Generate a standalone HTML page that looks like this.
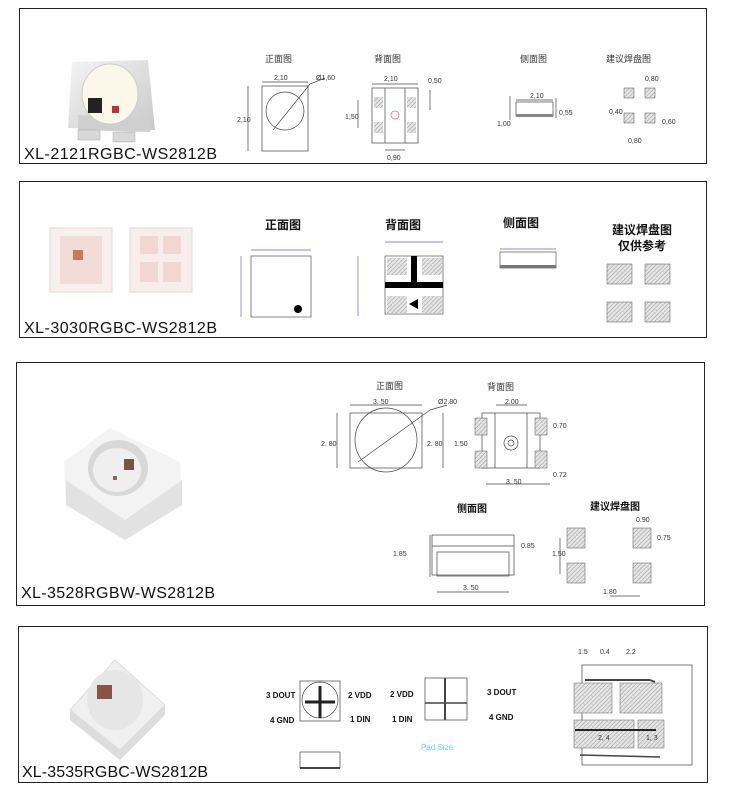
<!DOCTYPE html>
<html><head><meta charset="utf-8">
<style>
html,body{margin:0;padding:0;background:#fff;}
svg{display:block}
text{font-family:"Liberation Sans","Noto Sans CJK SC",sans-serif;}
.l{font-size:16px;fill:#111;}
.t{font-size:9px;fill:#333;}
.cb{font-size:12px;fill:#111;font-weight:bold;}
.d{font-size:7px;fill:#333;}
</style></head><body>
<svg width="733" height="795" viewBox="0 0 733 795" xmlns="http://www.w3.org/2000/svg">
<defs>
<pattern id="h" width="3" height="3" patternUnits="userSpaceOnUse" patternTransform="rotate(45)"><rect width="3" height="3" fill="#e4e4e4"/><line x1="0" y1="0" x2="0" y2="3" stroke="#999" stroke-width="1"/></pattern>
<linearGradient id="g1" x1="0" y1="0" x2="1" y2="1"><stop offset="0" stop-color="#f4f4f4"/><stop offset="1" stop-color="#c9c9c9"/></linearGradient>
</defs>
<rect x="19.5" y="8.5" width="687" height="155" fill="none" stroke="#222"/>
<rect x="19.5" y="181.5" width="687" height="156" fill="none" stroke="#222"/>
<rect x="16.5" y="362.5" width="688" height="243" fill="none" stroke="#222"/>
<rect x="18.5" y="626.5" width="689" height="156" fill="none" stroke="#222"/>

<text class="l" x="24" y="159" textLength="193">XL-2121RGBC-WS2812B</text>
<text class="l" x="24" y="333" textLength="193">XL-3030RGBC-WS2812B</text>
<text class="l" x="21" y="598" textLength="194">XL-3528RGBW-WS2812B</text>
<text class="l" x="22" y="777" textLength="186">XL-3535RGBC-WS2812B</text>

<!-- Panel 1 photo -->
<polygon points="72,62 148,60 155,130 68,128" fill="url(#g1)"/>
<polygon points="78,115 150,118 150,132 78,130" fill="#cfcfcf"/>
<rect x="78" y="130" width="22" height="10" fill="#d8d8d8" stroke="#aaa" stroke-width=".5"/>
<rect x="113" y="132" width="22" height="10" fill="#d8d8d8" stroke="#aaa" stroke-width=".5"/>
<ellipse cx="110" cy="94" rx="28" ry="30" fill="#fbf8ea" stroke="#ccc"/>
<rect x="88" y="98" width="14" height="15" fill="#222"/>
<rect x="112" y="106" width="7" height="7" fill="#b33"/>
<text class="t" x="265" y="62">正面图</text>
<text class="t" x="374" y="62">背面图</text>
<text class="t" x="520" y="62">侧面图</text>
<text class="t" x="606" y="62">建议焊盘图</text>
<g stroke="#444" fill="none" stroke-width=".7">
<rect x="262" y="86" width="46" height="65"/>
<circle cx="285" cy="111" r="19"/>
<line x1="262" y1="82" x2="308" y2="82"/><line x1="248" y1="86" x2="248" y2="151"/>
<line x1="273" y1="130" x2="310" y2="84"/><line x1="310" y1="84" x2="325" y2="78"/>
<rect x="372" y="88" width="46" height="55"/><line x1="385" y1="88" x2="385" y2="143"/><line x1="405" y1="88" x2="405" y2="143"/>
<line x1="372" y1="84" x2="418" y2="84"/><line x1="358" y1="100" x2="358" y2="128"/>
<line x1="385" y1="150" x2="405" y2="150"/><line x1="430" y1="90" x2="430" y2="110"/>
<circle cx="395" cy="115" r="4" stroke="#d66"/>
<rect x="516" y="102" width="37" height="14"/><line x1="516" y1="100" x2="553" y2="100"/>
<line x1="510" y1="96" x2="510" y2="120"/><line x1="556" y1="98" x2="556" y2="118"/>
</g>
<rect x="374" y="97" width="9" height="11" fill="url(#h)"/><rect x="407" y="97" width="9" height="11" fill="url(#h)"/>
<rect x="374" y="122" width="9" height="11" fill="url(#h)"/><rect x="407" y="122" width="9" height="11" fill="url(#h)"/>
<rect x="516" y="114" width="37" height="3" fill="#888"/>
<rect x="624" y="88" width="10" height="10" fill="url(#h)" stroke="#555" stroke-width=".5"/>
<rect x="645" y="88" width="10" height="10" fill="url(#h)" stroke="#555" stroke-width=".5"/>
<rect x="624" y="113" width="10" height="10" fill="url(#h)" stroke="#555" stroke-width=".5"/>
<rect x="645" y="113" width="10" height="10" fill="url(#h)" stroke="#555" stroke-width=".5"/>
<g class="d">
<text x="274" y="80">2,10</text><text x="316" y="80">Ø1,60</text><text x="237" y="122">2,10</text>
<text x="384" y="81">2,10</text><text x="428" y="83">0,50</text><text x="345" y="119">1,50</text><text x="387" y="160">0,90</text>
<text x="530" y="98">2,10</text><text x="559" y="115">0,55</text><text x="497" y="126">1,00</text>
<text x="645" y="81">0,80</text><text x="609" y="114">0,40</text><text x="662" y="124">0,60</text><text x="628" y="143">0,80</text>
</g>

<!-- Panel 2 -->
<rect x="50" y="228" width="62" height="64" fill="#f7f0ee" stroke="#e4d8d6"/>
<rect x="60" y="236" width="42" height="48" fill="#f2dcd8"/>
<rect x="73" y="250" width="10" height="10" fill="#c75"/>
<rect x="130" y="228" width="62" height="64" fill="#f7eeec" stroke="#e4d8d6"/>
<rect x="140" y="236" width="18" height="18" fill="#f1d6d2"/><rect x="163" y="236" width="18" height="18" fill="#f1d6d2"/>
<rect x="140" y="262" width="18" height="20" fill="#f1d6d2"/><rect x="163" y="262" width="18" height="20" fill="#f1d6d2"/>
<text class="cb" x="265" y="229">正面图</text>
<text class="cb" x="385" y="229">背面图</text>
<text class="cb" x="503" y="227">侧面图</text>
<text class="cb" x="612" y="234">建议焊盘图</text>
<text class="cb" x="618" y="250">仅供参考</text>
<g stroke="#555" fill="none" stroke-width=".7">
<rect x="251" y="256" width="60" height="61"/>
<line x1="251" y1="250" x2="311" y2="250" stroke="#66c"/><line x1="241" y1="256" x2="241" y2="317" stroke="#66c"/>
<rect x="385" y="256" width="58" height="58"/>
<line x1="385" y1="242" x2="443" y2="242" stroke="#66c"/><line x1="358" y1="256" x2="358" y2="316" stroke="#66c"/>
<rect x="500" y="252" width="56" height="16"/><line x1="500" y1="249" x2="556" y2="249" stroke="#66c"/>
</g>
<circle cx="298" cy="309" r="4" fill="#000"/>
<rect x="387" y="258" width="20" height="17" fill="url(#h)"/><rect x="422" y="258" width="20" height="17" fill="url(#h)"/>
<rect x="387" y="296" width="20" height="17" fill="url(#h)"/><rect x="422" y="296" width="20" height="17" fill="url(#h)"/>
<rect x="411" y="256" width="6" height="30" fill="#000"/><rect x="385" y="282" width="58" height="6" fill="#000"/>
<polygon points="409,304 418,299 418,309" fill="#000"/>
<rect x="500" y="265" width="56" height="3" fill="#777"/>
<rect x="607" y="264" width="25" height="20" fill="url(#h)" stroke="#555" stroke-width=".5"/>
<rect x="645" y="264" width="25" height="20" fill="url(#h)" stroke="#555" stroke-width=".5"/>
<rect x="607" y="302" width="25" height="20" fill="url(#h)" stroke="#555" stroke-width=".5"/>
<rect x="645" y="302" width="25" height="20" fill="url(#h)" stroke="#555" stroke-width=".5"/>

<!-- Panel 3 photo -->
<polygon points="64,462 110,428 180,462 182,505 125,540 66,505" fill="#f3f3f3"/>
<polygon points="66,480 125,520 182,480 182,505 125,540 66,505" fill="#e2e2e2"/>
<ellipse cx="118" cy="468" rx="30" ry="28" fill="#d8d8d8"/>
<ellipse cx="117" cy="470" rx="24" ry="22" fill="#efefef"/>
<rect x="124" y="459" width="10" height="11" fill="#754"/>
<rect x="113" y="476" width="4" height="4" fill="#a55"/>
<text class="t" x="376" y="389">正面图</text>
<text class="t" x="487" y="390">背面图</text>
<text class="cb" x="457" y="512" style="font-size:10px">侧面图</text>
<text class="cb" x="590" y="510" style="font-size:10px">建议焊盘图</text>
<g stroke="#444" fill="none" stroke-width=".7">
<rect x="350" y="413" width="72" height="55"/><ellipse cx="386" cy="440" rx="31" ry="32"/>
<line x1="350" y1="405" x2="422" y2="405"/><line x1="337" y1="413" x2="337" y2="468"/>
<line x1="358" y1="462" x2="430" y2="410"/><line x1="430" y1="410" x2="447" y2="405"/>
<rect x="482" y="413" width="58" height="55"/><line x1="495" y1="413" x2="495" y2="468"/><line x1="527" y1="413" x2="527" y2="468"/>
<circle cx="511" cy="443" r="7"/><circle cx="511" cy="443" r="3"/>
<line x1="496" y1="405" x2="527" y2="405"/><line x1="443" y1="413" x2="443" y2="468"/>
<line x1="486" y1="484" x2="550" y2="484"/>
<rect x="432" y="535" width="82" height="40"/><rect x="437" y="552" width="72" height="24"/>
<line x1="432" y1="546" x2="514" y2="546"/>
<line x1="430" y1="535" x2="430" y2="577"/><line x1="437" y1="592" x2="509" y2="592"/>
<line x1="560" y1="538" x2="560" y2="574"/><line x1="610" y1="596" x2="640" y2="596"/>
</g>
<rect x="475" y="418" width="12" height="17" fill="url(#h)" stroke="#555" stroke-width=".5"/>
<rect x="535" y="418" width="12" height="17" fill="url(#h)" stroke="#555" stroke-width=".5"/>
<rect x="475" y="451" width="12" height="17" fill="url(#h)" stroke="#555" stroke-width=".5"/>
<rect x="535" y="451" width="12" height="17" fill="url(#h)" stroke="#555" stroke-width=".5"/>
<rect x="567" y="528" width="18" height="20" fill="url(#h)" stroke="#555" stroke-width=".5"/>
<rect x="633" y="528" width="18" height="20" fill="url(#h)" stroke="#555" stroke-width=".5"/>
<rect x="567" y="563" width="18" height="20" fill="url(#h)" stroke="#555" stroke-width=".5"/>
<rect x="633" y="563" width="18" height="20" fill="url(#h)" stroke="#555" stroke-width=".5"/>
<g class="d">
<text x="373" y="404">3. 50</text><text x="438" y="404">Ø2.80</text><text x="321" y="446">2. 80</text><text x="427" y="446">2. 80</text>
<text x="454" y="446">1.50</text><text x="505" y="404">2.00</text><text x="553" y="428">0.70</text><text x="553" y="477">0.72</text>
<text x="506" y="484">3. 50</text><text x="393" y="556">1.85</text><text x="521" y="548">0.85</text><text x="463" y="590">3. 50</text>
<text x="552" y="556">1.50</text><text x="636" y="522">0.90</text><text x="657" y="540">0.75</text><text x="603" y="594">1.80</text>
</g>

<!-- Panel 4 -->
<polygon points="70,710 115,660 165,705 120,750" fill="#f0f0f0" stroke="#ddd"/>
<polygon points="70,710 120,750 165,705 165,715 120,760 70,720" fill="#ddd"/>
<ellipse cx="115" cy="700" rx="28" ry="30" fill="#e6e6e6"/>
<rect x="97" y="685" width="15" height="14" fill="#854"/>
<g stroke="#444" fill="none" stroke-width=".7">
<rect x="300" y="681" width="40" height="40"/><circle cx="320" cy="700" r="18"/>
<line x1="320" y1="686" x2="320" y2="718" stroke="#222" stroke-width="3"/><line x1="305" y1="702" x2="335" y2="702" stroke="#222" stroke-width="3"/>
<rect x="300" y="752" width="40" height="16"/><line x1="300" y1="768" x2="340" y2="768" stroke-width="2"/>
<rect x="425" y="678" width="42" height="42"/>
<line x1="445" y1="678" x2="445" y2="720" stroke-width="2"/><line x1="425" y1="703" x2="467" y2="703" stroke-width="1.5"/>
<rect x="582" y="665" width="110" height="100"/>
<line x1="585" y1="680" x2="650" y2="680" stroke-width="2"/><line x1="650" y1="680" x2="655" y2="682" stroke-width="2"/>
<line x1="580" y1="755" x2="660" y2="757" stroke-width="1.5"/>
</g>
<rect x="574" y="683" width="38" height="30" fill="url(#h)" stroke="#666" stroke-width=".5"/>
<rect x="620" y="683" width="42" height="30" fill="url(#h)" stroke="#666" stroke-width=".5"/>
<rect x="574" y="720" width="60" height="28" fill="url(#h)" stroke="#666" stroke-width=".5"/>
<rect x="638" y="720" width="26" height="28" fill="url(#h)" stroke="#666" stroke-width=".5"/>
<line x1="575" y1="730" x2="656" y2="730" stroke="#222" stroke-width="2"/>
<g style="font-size:8px;font-weight:bold;fill:#111">
<text x="266" y="698">3 DOUT</text><text x="348" y="698">2 VDD</text><text x="270" y="723">4 GND</text><text x="350" y="722">1 DIN</text>
<text x="390" y="697">2 VDD</text><text x="487" y="695">3 DOUT</text><text x="392" y="722">1 DIN</text><text x="489" y="720">4 GND</text>
</g>
<text x="421" y="750" style="font-size:8px;fill:#6dd">Pad Size</text>
<g class="d"><text x="578" y="654">1.5</text><text x="600" y="654">0.4</text><text x="626" y="654">2.2</text><text x="598" y="740">2, 4</text><text x="646" y="740">1, 3</text></g>
</svg>
</body></html>
